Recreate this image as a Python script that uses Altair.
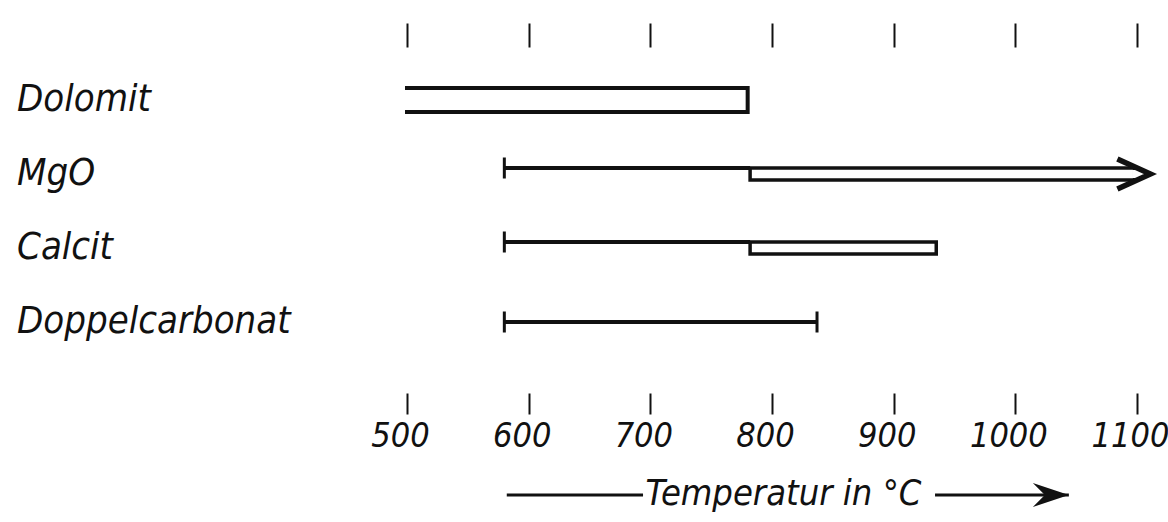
import altair as alt
import pandas as pd

# ---- data (temperatures in °C) ----
materials = ["Dolomit", "MgO", "Calcit", "Doppelcarbonat"]
line_start = [None, 580, 580, 580]
line_end = [None, 782, 782, 837]
bar_start = [500, 782, 782, None]
bar_end = [780, 1098, 935, None]
arrow_tip = [None, 1111, None, None]
temp_ticks = [500, 600, 700, 800, 900, 1000, 1100]
axis_arrow_start = [582, 934]
axis_arrow_end = [694, 1044]
axis_arrow_head = [None, 1044]

FONT = "Liberation Sans Narrow, DejaVu Sans Condensed, sans-serif"
INK = "#111111"

df = pd.DataFrame(dict(material=materials, ls=line_start, le=line_end,
                       bs=bar_start, be=bar_end, tip=arrow_tip))
ticks_df = pd.DataFrame(dict(t=temp_ticks))
arr_df = pd.DataFrame(dict(s=axis_arrow_start, e=axis_arrow_end, h=axis_arrow_head))

xs = alt.Scale(domain=[500, 1100], nice=False, zero=False)
ys = alt.Scale(type="point", domain=materials, range=[53, 275], padding=0)
Y = alt.Y("material:N", scale=ys, axis=None)


def X(field):
    return alt.X(field, scale=xs, axis=None, title=None)


base = alt.Chart(df)

# axes (bottom with labels + title, top with ticks only)
axis_bottom = alt.Chart(ticks_df).mark_point(opacity=0).encode(
    x=alt.X("t:Q", scale=xs, axis=alt.Axis(
        orient="bottom", values=temp_ticks, format="d", domain=False, grid=False,
        tickSize=21, tickWidth=2, tickColor=INK,
        labelFont=FONT, labelFontStyle="italic", labelFontSize=34, labelColor=INK,
        labelPadding=5, labelFlush=False, labelOffset=-7, labelOverlap=False,
        title="Temperatur in °C", titleFont=FONT, titleFontStyle="italic",
        titleFontWeight="normal", titleFontSize=36, titleColor=INK,
        titleX=376, titleY=100, titleBaseline="middle", titleAlign="center"))
)
axis_top = alt.Chart(ticks_df).mark_point(opacity=0).encode(
    x=alt.X("t:Q", scale=xs, axis=alt.Axis(
        orient="top", values=temp_ticks, domain=False, grid=False,
        tickSize=24, tickWidth=2, tickColor=INK, labels=False, title=None))
)

labels = base.mark_text(align="left", baseline="middle", font=FONT,
                        fontStyle="italic", fontSize=38, color=INK).encode(
    x=alt.value(-390), y=Y, text="material:N")

# thin lines (range of existence) - those that run into a bar sit on its top edge
with_bar = "isValid(datum.ls) && isValid(datum.bs)"
solo = "isValid(datum.ls) && !isValid(datum.bs)"
line_bar = base.transform_filter(with_bar).mark_rule(
    strokeWidth=4, color=INK, yOffset=-6).encode(x=X("ls:Q"), x2="le:Q", y=Y)
line_solo = base.transform_filter(solo).mark_rule(
    strokeWidth=4, color=INK).encode(x=X("ls:Q"), x2="le:Q", y=Y)
cap_bar = base.transform_filter(with_bar).mark_tick(
    thickness=3, size=21, color=INK, opacity=1, yOffset=-6).encode(x=X("ls:Q"), y=Y)
cap_solo_s = base.transform_filter(solo).mark_tick(
    thickness=3, size=21, color=INK, opacity=1).encode(x=X("ls:Q"), y=Y)
cap_solo_e = base.transform_filter(solo).mark_tick(
    thickness=3, size=21, color=INK, opacity=1).encode(x=X("le:Q"), y=Y)

# open bars
bar_thick = base.transform_filter("isValid(datum.bs) && !isValid(datum.ls)").mark_bar(
    size=24, fill="white", stroke=INK, strokeWidth=4, opacity=1).encode(
    x=X("bs:Q"), x2="be:Q", y=Y)
bar_thin = base.transform_filter("isValid(datum.bs) && isValid(datum.ls)").mark_bar(
    size=12, fill="white", stroke=INK, strokeWidth=3.5, opacity=1).encode(
    x=X("bs:Q"), x2="be:Q", y=Y)
# open ends
open_left = base.transform_filter("isValid(datum.bs) && !isValid(datum.ls)").mark_tick(
    thickness=5, size=20, color="white", opacity=1).encode(x=X("bs:Q"), y=Y)
open_right = base.transform_filter("isValid(datum.tip)").mark_tick(
    thickness=5, size=8, color="white", opacity=1).encode(x=X("be:Q"), y=Y)
head = base.transform_filter("isValid(datum.tip)").mark_point(
    shape="M -2.2 -1 L 0 0 L -2.2 1", filled=False, stroke=INK, strokeWidth=5.5,
    strokeJoin="miter", size=900, opacity=1).encode(x=X("tip:Q"), y=Y)

# arrows around the axis title
title_lines = alt.Chart(arr_df).mark_rule(strokeWidth=3, color=INK).encode(
    x=X("s:Q"), x2="e:Q", y=alt.value(448))
title_head = alt.Chart(arr_df).transform_filter("isValid(datum.h)").mark_point(
    shape="M 0 0 L -3 -1 L -2 0 L -3 1 Z", filled=True, color=INK, size=576,
    opacity=1).encode(x=X("h:Q"), y=alt.value(448))

chart = alt.layer(
    axis_bottom, axis_top, labels, line_bar, line_solo, cap_bar, cap_solo_s, cap_solo_e,
    bar_thick, bar_thin, open_left, open_right, head, title_lines, title_head
).properties(
    width=730, height=346,
    autosize=alt.AutoSizeParams(type="none"),
    padding={"left": 407, "top": 47, "right": 31, "bottom": 129},
    background="white"
).configure_view(stroke=None)

chart.save("out.html", embed_options={"renderer": "svg", "actions": False})
